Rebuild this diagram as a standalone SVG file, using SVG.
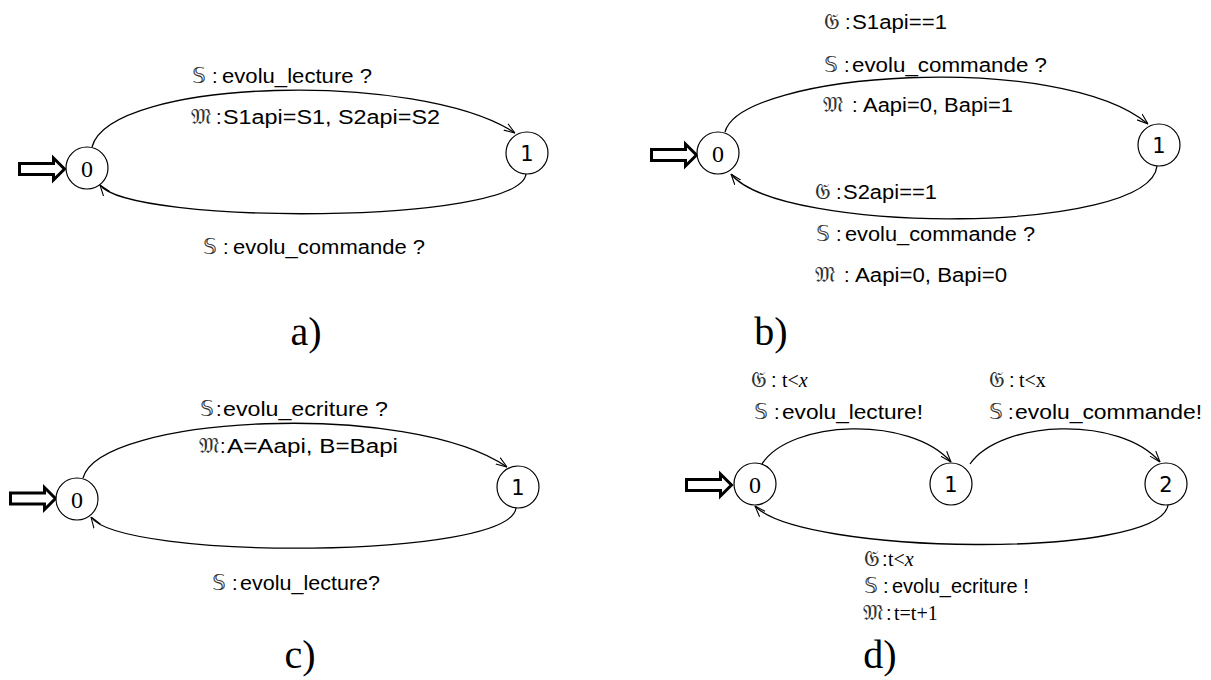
<svg xmlns="http://www.w3.org/2000/svg" width="1211" height="680" viewBox="0 0 1211 680">
<defs>
<marker id="v" viewBox="0 0 10 10" refX="10" refY="5" markerWidth="11" markerHeight="11" markerUnits="userSpaceOnUse" orient="auto">
<path d="M0,1.5 L10,5 L0,8.5" fill="none" stroke="#000" stroke-width="1"/>
</marker>
</defs>
<style>
.st{fill:#fff;stroke:#000;stroke-width:1.2}
.e{fill:none;stroke:#000;stroke-width:1.3;marker-end:url(#v)}
.ini{fill:#fff;stroke:#000;stroke-width:3}
.t{font-family:"Liberation Sans",Arial,sans-serif;font-size:20px;fill:#000}
.m{font-family:"DejaVu Sans","DejaVu Serif",serif;font-size:22px;fill:#333}
.r{font-family:"Liberation Serif","Times New Roman",serif;font-size:20px;fill:#000}
.n0{font-family:"Liberation Serif","Times New Roman",serif;font-size:24px;text-anchor:middle}
.n1{font-family:"DejaVu Sans",sans-serif;font-size:21px;text-anchor:middle}
.cap{font-family:"Liberation Serif","Times New Roman",serif;font-size:40px;text-anchor:middle}
</style>

<!-- Panel a -->
<g id="a-init"><polygon class="ini" points="19.5,163.5 53.5,163.5 53.5,158 64.5,169 53.5,180 53.5,174.5 19.5,174.5"/></g>
<g id="a-s0"><circle class="st" cx="87" cy="168" r="21"/><text class="n0" x="87" y="177">0</text></g>
<g id="a-s1"><circle class="st" cx="527" cy="153" r="21"/><text class="n1" x="527" y="161">1</text></g>
<g id="a-edges">
<path class="e" d="M92,147 C110,78 420,70 515,133"/>
<path class="e" d="M526,174 C520,225 130,225 100,185"/>
</g>
<g id="a-labels">
<text y="83"><tspan class="m" x="192">𝕊</tspan><tspan class="t" x="212">:</tspan></text>
<text class="t" x="222" y="83" textLength="150" lengthAdjust="spacingAndGlyphs">evolu_lecture ?</text>
<text y="124"><tspan class="m" x="191">𝔐</tspan><tspan class="t" x="216">:</tspan></text>
<text class="t" x="223" y="124" textLength="217" lengthAdjust="spacingAndGlyphs">S1api=S1, S2api=S2</text>
<text y="254"><tspan class="m" x="203">𝕊</tspan><tspan class="t" x="223">:</tspan></text>
<text class="t" x="233" y="254" textLength="192" lengthAdjust="spacingAndGlyphs">evolu_commande ?</text>
<text class="cap" x="306" y="345">a)</text>
</g>

<!-- Panel b -->
<g id="b-init"><polygon class="ini" points="651.5,149.5 685.5,149.5 685.5,144 696.5,155 685.5,166 685.5,160.5 651.5,160.5"/></g>
<g id="b-s0"><circle class="st" cx="718" cy="153" r="21"/><text class="n0" x="718" y="162">0</text></g>
<g id="b-s1"><circle class="st" cx="1159" cy="145" r="21"/><text class="n1" x="1159" y="153">1</text></g>
<g id="b-edges">
<path class="e" d="M725,132 C740,72 1060,50 1148,124"/>
<path class="e" d="M1157,166 C1150,235 780,235 731,174"/>
</g>
<g id="b-labels">
<text y="29"><tspan class="m" x="824">𝔊</tspan><tspan class="t" x="845">:</tspan></text>
<text class="t" x="852" y="29" textLength="95" lengthAdjust="spacingAndGlyphs">S1api==1</text>
<text y="72"><tspan class="m" x="824">𝕊</tspan><tspan class="t" x="844">:</tspan></text>
<text class="t" x="852" y="72" textLength="195" lengthAdjust="spacingAndGlyphs">evolu_commande ?</text>
<text y="112"><tspan class="m" x="823">𝔐</tspan><tspan class="t" x="852">:</tspan></text>
<text class="t" x="863" y="112" textLength="150" lengthAdjust="spacingAndGlyphs">Aapi=0, Bapi=1</text>
<text y="199"><tspan class="m" x="815">𝔊</tspan><tspan class="t" x="836">:</tspan></text>
<text class="t" x="843" y="199" textLength="94" lengthAdjust="spacingAndGlyphs">S2api==1</text>
<text y="241"><tspan class="m" x="816">𝕊</tspan><tspan class="t" x="836">:</tspan></text>
<text class="t" x="845" y="241" textLength="190" lengthAdjust="spacingAndGlyphs">evolu_commande ?</text>
<text y="282"><tspan class="m" x="815">𝔐</tspan><tspan class="t" x="844">:</tspan></text>
<text class="t" x="855" y="282" textLength="152" lengthAdjust="spacingAndGlyphs">Aapi=0, Bapi=0</text>
<text class="cap" x="771" y="345">b)</text>
</g>

<!-- Panel c -->
<g id="c-init"><polygon class="ini" points="10.5,493 44.5,493 44.5,487.5 55.5,498.5 44.5,509.5 44.5,504 10.5,504"/></g>
<g id="c-s0"><circle class="st" cx="77" cy="499" r="21"/><text class="n0" x="77" y="508">0</text></g>
<g id="c-s1"><circle class="st" cx="518" cy="487" r="21"/><text class="n1" x="518" y="495">1</text></g>
<g id="c-edges">
<path class="e" d="M83,478 C100,415 410,400 507,467"/>
<path class="e" d="M516,508 C510,560 120,560 91,517"/>
</g>
<g id="c-labels">
<text y="416"><tspan class="m" x="200">𝕊</tspan><tspan class="t" x="216">:</tspan></text>
<text class="t" x="223" y="416" textLength="165" lengthAdjust="spacingAndGlyphs">evolu_ecriture ?</text>
<text y="453"><tspan class="m" x="199">𝔐</tspan><tspan class="t" x="220">:</tspan></text>
<text class="t" x="227" y="453" textLength="171" lengthAdjust="spacingAndGlyphs">A=Aapi, B=Bapi</text>
<text y="590"><tspan class="m" x="212">𝕊</tspan><tspan class="t" x="232">:</tspan></text>
<text class="t" x="240" y="590" textLength="140" lengthAdjust="spacingAndGlyphs">evolu_lecture?</text>
<text class="cap" x="300" y="668">c)</text>
</g>

<!-- Panel d -->
<g id="d-init"><polygon class="ini" points="686.5,479.5 720.5,479.5 720.5,474 731.5,485 720.5,496 720.5,490.5 686.5,490.5"/></g>
<g id="d-s0"><circle class="st" cx="755" cy="484" r="21"/><text class="n0" x="755" y="493">0</text></g>
<g id="d-s1"><circle class="st" cx="951" cy="484" r="21"/><text class="n1" x="951" y="492">1</text></g>
<g id="d-s2"><circle class="st" cx="1166" cy="484" r="21"/><text class="n1" x="1166" y="492">2</text></g>
<g id="d-edges">
<path class="e" d="M762,464 C790,420 910,415 951,462"/>
<path class="e" d="M970,464 C1000,420 1120,415 1160,462"/>
<path class="e" d="M1168,505 C1160,560 800,555 755,506"/>
</g>
<g id="d-labels">
<text y="387"><tspan class="m" x="751">𝔊</tspan><tspan class="t" x="771">:</tspan><tspan class="r" x="782">t&lt;</tspan><tspan class="r" font-style="italic">x</tspan></text>
<text y="419"><tspan class="m" x="754">𝕊</tspan><tspan class="t" x="774">:</tspan></text>
<text class="t" x="782" y="419" textLength="141" lengthAdjust="spacingAndGlyphs">evolu_lecture!</text>
<text y="387"><tspan class="m" x="989">𝔊</tspan><tspan class="t" x="1009">:</tspan><tspan class="r" x="1019">t&lt;x</tspan></text>
<text y="419"><tspan class="m" x="989">𝕊</tspan><tspan class="t" x="1008">:</tspan></text>
<text class="t" x="1015" y="419" textLength="187" lengthAdjust="spacingAndGlyphs">evolu_commande!</text>
<text y="566"><tspan class="m" x="864">𝔊</tspan><tspan class="t" x="882">:</tspan><tspan class="r" x="888">t&lt;</tspan><tspan class="r" font-style="italic">x</tspan></text>
<text y="593"><tspan class="m" x="864">𝕊</tspan><tspan class="t" x="883">:</tspan></text>
<text class="t" x="892" y="593">evolu_ecriture !</text>
<text y="620"><tspan class="m" x="863">𝔐</tspan><tspan class="t" x="886">:</tspan><tspan class="r" x="894">t=t+1</tspan></text>
<text class="cap" x="880" y="668">d)</text>
</g>
</svg>
